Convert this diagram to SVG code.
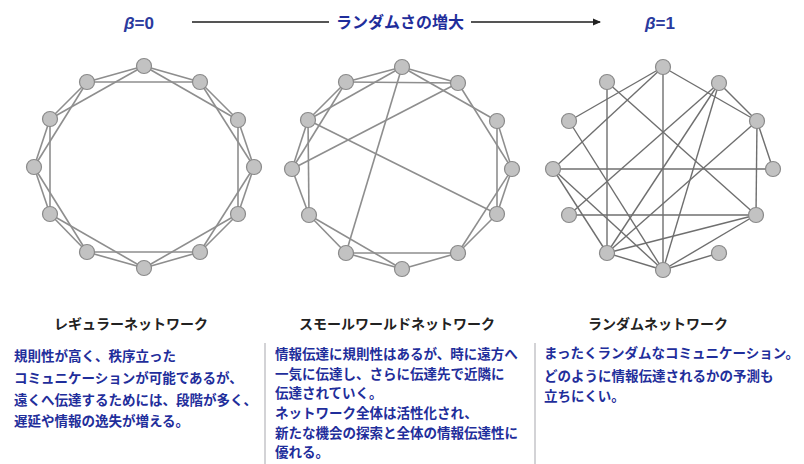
<svg xmlns="http://www.w3.org/2000/svg" width="804" height="464" viewBox="0 0 804 464">
<style>
.bg{fill:#ffffff}
.e{stroke:#8e8e8e;stroke-width:1.6;fill:none}
.e3{stroke:#6f6f6f;stroke-width:1.4;fill:none}
.n{fill:#c2c2c2;stroke:#8a8a8a;stroke-width:1.2}
.jp{font-family:"Noto Sans CJK JP","Noto Sans CJK SC",sans-serif;font-weight:bold}
.blue{fill:#1f2e9b}
.lbl{font-size:14px;fill:#222;text-anchor:middle}
.body{font-size:13.5px}
.beta{font-family:"Liberation Sans",Arial,sans-serif;font-weight:bold;font-size:17px;fill:#2a3a9e;text-anchor:middle}
.sep{stroke:#c4c4c8;stroke-width:1.5}
</style>
<defs>
<marker id="ah" markerWidth="8" markerHeight="8" refX="7" refY="4" orient="auto" markerUnits="userSpaceOnUse">
<path d="M0,0.5 L8,4 L0,7.5 Z" fill="#222"/>
</marker>
</defs>
<rect class="bg" x="0" y="0" width="804" height="464"/>

<g id="header">
<text class="beta" x="139" y="29"><tspan font-style="italic">β</tspan>=0</text>
<text class="beta" x="660" y="29"><tspan font-style="italic">β</tspan>=1</text>
<line x1="192" y1="22" x2="329" y2="22" stroke="#555" stroke-width="2.2"/>
<line x1="471" y1="22" x2="600" y2="22" stroke="#555" stroke-width="2.2" marker-end="url(#ah)"/>
<text class="jp blue" x="400" y="28" font-size="16" text-anchor="middle">ランダムさの増大</text>
</g>

<g id="connectors">
<g id="edges-regular" class="e">
<line x1="144" y1="66" x2="200" y2="82"/>
<line x1="200" y1="82" x2="238" y2="120"/>
<line x1="238" y1="120" x2="254" y2="167"/>
<line x1="254" y1="167" x2="238" y2="214"/>
<line x1="238" y1="214" x2="200" y2="252"/>
<line x1="200" y1="252" x2="144" y2="268"/>
<line x1="144" y1="268" x2="87" y2="252"/>
<line x1="87" y1="252" x2="50" y2="214"/>
<line x1="50" y1="214" x2="34" y2="167"/>
<line x1="34" y1="167" x2="50" y2="119"/>
<line x1="50" y1="119" x2="87" y2="82"/>
<line x1="87" y1="82" x2="144" y2="66"/>
<line x1="144" y1="66" x2="238" y2="120"/>
<line x1="200" y1="82" x2="254" y2="167"/>
<line x1="238" y1="120" x2="238" y2="214"/>
<line x1="254" y1="167" x2="200" y2="252"/>
<line x1="238" y1="214" x2="144" y2="268"/>
<line x1="200" y1="252" x2="87" y2="252"/>
<line x1="144" y1="268" x2="50" y2="214"/>
<line x1="87" y1="252" x2="34" y2="167"/>
<line x1="50" y1="214" x2="50" y2="119"/>
<line x1="34" y1="167" x2="87" y2="82"/>
<line x1="50" y1="119" x2="144" y2="66"/>
<line x1="87" y1="82" x2="200" y2="82"/>
</g>
<g id="edges-smallworld" class="e">
<line x1="402" y1="67" x2="346" y2="82"/>
<line x1="402" y1="67" x2="458" y2="83"/>
<line x1="346" y1="82" x2="458" y2="83"/>
<line x1="402" y1="67" x2="308" y2="120"/>
<line x1="402" y1="67" x2="497" y2="121"/>
<line x1="346" y1="82" x2="308" y2="120"/>
<line x1="346" y1="82" x2="292" y2="169"/>
<line x1="458" y1="83" x2="292" y2="169"/>
<line x1="458" y1="83" x2="512" y2="169"/>
<line x1="308" y1="120" x2="292" y2="169"/>
<line x1="308" y1="120" x2="309" y2="215"/>
<line x1="308" y1="120" x2="497" y2="214"/>
<line x1="497" y1="121" x2="512" y2="169"/>
<line x1="497" y1="121" x2="497" y2="214"/>
<line x1="292" y1="169" x2="309" y2="215"/>
<line x1="512" y1="169" x2="497" y2="214"/>
<line x1="512" y1="169" x2="458" y2="253"/>
<line x1="309" y1="215" x2="346" y2="253"/>
<line x1="309" y1="215" x2="402" y2="269"/>
<line x1="497" y1="214" x2="458" y2="253"/>
<line x1="346" y1="253" x2="458" y2="253"/>
<line x1="346" y1="253" x2="402" y2="269"/>
<line x1="402" y1="269" x2="458" y2="253"/>
<line x1="402" y1="67" x2="346" y2="253"/>
</g>
<g id="edges-random" class="e3">
<line x1="663" y1="67" x2="569" y2="121"/>
<line x1="663" y1="67" x2="553" y2="169"/>
<line x1="663" y1="67" x2="663" y2="270"/>
<line x1="663" y1="67" x2="757" y2="121"/>
<line x1="607" y1="82" x2="607" y2="253"/>
<line x1="607" y1="82" x2="756" y2="215"/>
<line x1="719" y1="83" x2="757" y2="121"/>
<line x1="719" y1="83" x2="569" y2="215"/>
<line x1="719" y1="83" x2="607" y2="253"/>
<line x1="719" y1="83" x2="663" y2="270"/>
<line x1="757" y1="121" x2="773" y2="169"/>
<line x1="757" y1="121" x2="756" y2="215"/>
<line x1="757" y1="121" x2="607" y2="253"/>
<line x1="553" y1="169" x2="773" y2="169"/>
<line x1="553" y1="169" x2="607" y2="253"/>
<line x1="553" y1="169" x2="663" y2="270"/>
<line x1="569" y1="121" x2="663" y2="270"/>
<line x1="569" y1="215" x2="756" y2="215"/>
<line x1="756" y1="215" x2="607" y2="253"/>
<line x1="756" y1="215" x2="663" y2="270"/>
<line x1="607" y1="253" x2="663" y2="270"/>
<line x1="663" y1="270" x2="719" y2="253"/>
</g>
</g>

<g id="regular-network">
<g id="r-T"><circle class="n" cx="144" cy="66" r="7.5"/></g>
<g id="r-UR"><circle class="n" cx="200" cy="82" r="7.5"/></g>
<g id="r-R1"><circle class="n" cx="238" cy="120" r="7.5"/></g>
<g id="r-R"><circle class="n" cx="254" cy="167" r="7.5"/></g>
<g id="r-R2"><circle class="n" cx="238" cy="214" r="7.5"/></g>
<g id="r-BR"><circle class="n" cx="200" cy="252" r="7.5"/></g>
<g id="r-B"><circle class="n" cx="144" cy="268" r="7.5"/></g>
<g id="r-BL"><circle class="n" cx="87" cy="252" r="7.5"/></g>
<g id="r-L2"><circle class="n" cx="50" cy="214" r="7.5"/></g>
<g id="r-L"><circle class="n" cx="34" cy="167" r="7.5"/></g>
<g id="r-L1"><circle class="n" cx="50" cy="119" r="7.5"/></g>
<g id="r-UL"><circle class="n" cx="87" cy="82" r="7.5"/></g>
</g>
<g id="smallworld-network">
<g id="s-T"><circle class="n" cx="402" cy="67" r="7.5"/></g>
<g id="s-UR"><circle class="n" cx="458" cy="83" r="7.5"/></g>
<g id="s-R1"><circle class="n" cx="497" cy="121" r="7.5"/></g>
<g id="s-R"><circle class="n" cx="512" cy="169" r="7.5"/></g>
<g id="s-R2"><circle class="n" cx="497" cy="214" r="7.5"/></g>
<g id="s-BR"><circle class="n" cx="458" cy="253" r="7.5"/></g>
<g id="s-B"><circle class="n" cx="402" cy="269" r="7.5"/></g>
<g id="s-BL"><circle class="n" cx="346" cy="253" r="7.5"/></g>
<g id="s-L2"><circle class="n" cx="309" cy="215" r="7.5"/></g>
<g id="s-L"><circle class="n" cx="292" cy="169" r="7.5"/></g>
<g id="s-L1"><circle class="n" cx="308" cy="120" r="7.5"/></g>
<g id="s-UL"><circle class="n" cx="346" cy="82" r="7.5"/></g>
</g>
<g id="random-network">
<g id="x-T"><circle class="n" cx="663" cy="67" r="7.5"/></g>
<g id="x-UR"><circle class="n" cx="719" cy="83" r="7.5"/></g>
<g id="x-R1"><circle class="n" cx="757" cy="121" r="7.5"/></g>
<g id="x-R"><circle class="n" cx="773" cy="169" r="7.5"/></g>
<g id="x-R2"><circle class="n" cx="756" cy="215" r="7.5"/></g>
<g id="x-BR"><circle class="n" cx="719" cy="253" r="7.5"/></g>
<g id="x-B"><circle class="n" cx="663" cy="270" r="7.5"/></g>
<g id="x-BL"><circle class="n" cx="607" cy="253" r="7.5"/></g>
<g id="x-L2"><circle class="n" cx="569" cy="215" r="7.5"/></g>
<g id="x-L"><circle class="n" cx="553" cy="169" r="7.5"/></g>
<g id="x-L1"><circle class="n" cx="569" cy="121" r="7.5"/></g>
<g id="x-UL"><circle class="n" cx="607" cy="82" r="7.5"/></g>
</g>

<g id="labels">
<text class="jp lbl" x="131" y="329">レギュラーネットワーク</text>
<text class="jp lbl" x="397" y="329">スモールワールドネットワーク</text>
<text class="jp lbl" x="658" y="329">ランダムネットワーク</text>
</g>

<line class="sep" x1="265" y1="343" x2="265" y2="464"/>
<line class="sep" x1="535" y1="343" x2="535" y2="464"/>

<g id="desc-regular" class="jp blue body">
<text x="14" y="361">規則性が高く、秩序立った</text>
<text x="14" y="383">コミュニケーションが可能であるが、</text>
<text x="14" y="405">遠くへ伝達するためには、段階が多く、</text>
<text x="14" y="426">遅延や情報の逸失が増える。</text>
</g>
<g id="desc-smallworld" class="jp blue body">
<text x="275" y="359">情報伝達に規則性はあるが、時に遠方へ</text>
<text x="275" y="378.7">一気に伝達し、さらに伝達先で近隣に</text>
<text x="275" y="398.4">伝達されていく。</text>
<text x="275" y="418">ネットワーク全体は活性化され、</text>
<text x="275" y="437.7">新たな機会の探索と全体の情報伝達性に</text>
<text x="275" y="457.4">優れる。</text>
</g>
<g id="desc-random" class="jp blue body">
<text x="544" y="358">まったくランダムなコミュニケーション。</text>
<text x="544" y="381">どのように情報伝達されるかの予測も</text>
<text x="544" y="401">立ちにくい。</text>
</g>
</svg>
